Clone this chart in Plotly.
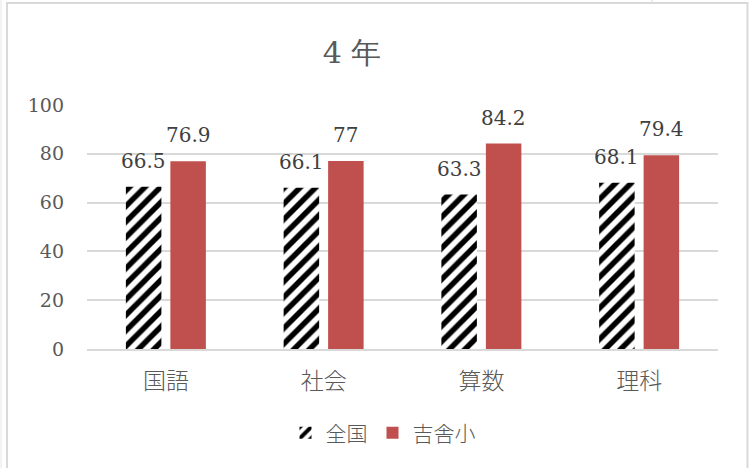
import plotly.graph_objects as go

categories = ["国語", "社会", "算数", "理科"]
zenkoku = [66.5, 66.1, 63.3, 68.1]
kisa = [76.9, 77, 84.2, 79.4]
series_names = ["全国", "吉舎小"]
title_text = "4 年"
y_ticks = [0, 20, 40, 60, 80, 100]

W, H = 749, 468
L, R, T, B = 87, 749 - 718, 105, 468 - 349
pw, ph = W - L - R, H - T - B

def px_x(p):
    return (p - L) / pw

def px_y(p):
    return (H - B - p) / ph

serif = "DejaVu Serif"
sans = "Noto Sans CJK JP"

fig = go.Figure()
fig.add_trace(go.Bar(
    x=categories, y=zenkoku, name=series_names[0],
    marker=dict(color="white", line=dict(width=0),
                pattern=dict(shape="/", fgcolor="black", bgcolor="white",
                             fgopacity=1, size=11, solidity=0.5)),
))
fig.add_trace(go.Bar(
    x=categories, y=kisa, name=series_names[1],
    marker=dict(color="#C0504D", line=dict(width=0)),
))

annotations = []
for vals, shift in ((zenkoku, -22.25), (kisa, 22.25)):
    for c, v in zip(categories, vals):
        annotations.append(dict(
            x=c, y=v, xref="x", yref="y", text=f"{v:g}", showarrow=False,
            xshift=shift, yshift=12, yanchor="bottom",
            font=dict(family=serif, size=20, color="#404040"),
        ))

shapes = [
    dict(type="rect", xref="paper", yref="paper",
         x0=px_x(7), x1=px_x(747.5), y0=px_y(3), y1=px_y(470),
         line=dict(color="#d9d9d9", width=2), layer="below"),
    dict(type="line", xref="paper", yref="paper",
         x0=px_x(1), x1=px_x(1), y0=px_y(0), y1=px_y(468),
         line=dict(color="#e6e6e6", width=1)),
    dict(type="line", xref="paper", yref="paper",
         x0=px_x(652), x1=px_x(652), y0=px_y(0), y1=px_y(3),
         line=dict(color="#d9d9d9", width=1)),
]

fig.update_layout(
    width=W, height=H,
    margin=dict(l=L, r=R, t=T, b=B),
    paper_bgcolor="white", plot_bgcolor="white",
    barmode="group", bargap=0.436, bargroupgap=0.202,
    title=dict(text=title_text, x=352 / W, xanchor="center",
               y=1 - 52 / H, yanchor="middle", yref="container",
               font=dict(family=serif, size=30, color="#595959")),
    xaxis=dict(showgrid=False, showline=True, linecolor="#d9d9d9", linewidth=2,
               ticks="", ticklabelstandoff=10,
               tickfont=dict(family=sans, size=23, color="#595959", weight=300)),
    yaxis=dict(range=[0, 100], tickvals=y_ticks, showgrid=True,
               gridcolor="#d9d9d9", gridwidth=2, zeroline=False, showline=False,
               ticks="", ticklabelstandoff=22,
               tickfont=dict(family=serif, size=19, color="#595959")),
    legend=dict(orientation="h", x=px_x(383), xanchor="center",
                y=px_y(433), yanchor="middle",
                font=dict(family=sans, size=21, color="#595959", weight=300),
                itemwidth=30, traceorder="normal"),
    annotations=annotations,
    shapes=shapes,
)

fig.write_html("out.html", config={"displayModeBar": False},
               post_script="document.body.style.margin='0';")
